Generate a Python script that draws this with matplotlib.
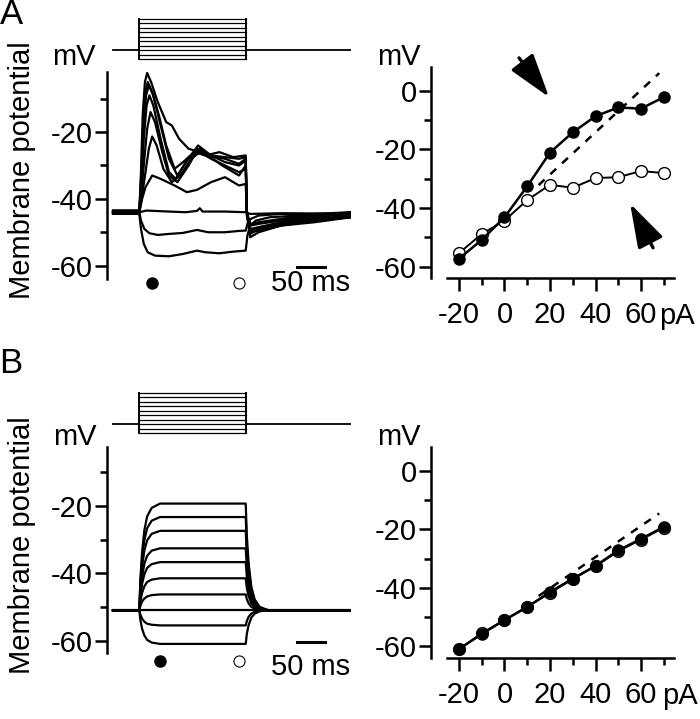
import matplotlib
matplotlib.use("Agg")
import matplotlib.pyplot as plt
from matplotlib.ticker import FixedLocator

plt.rcParams['font.family'] = ['Liberation Sans', 'DejaVu Sans']
plt.rcParams['axes.unicode_minus'] = False
FS = 21

# ---------------- data ----------------
currents = [-20, -10, 0, 10, 20, 30, 40, 50, 60, 70]          # pA
step_on, step_off, t_end = 47, 238, 425                        # ms

# Panel A I-V (peak = filled, steady = open)
A_peak = [-57.3, -50.9, -43.2, -32.6, -21.1, -14.2, -8.7, -5.7, -6.1, -2.2]
A_steady = [-55.4, -48.9, -44.3, -37.3, -32.1, -33.1, -29.8, -29.5, -27.4, -28.1]
A_fit_I = [15, 68]
A_fit_V = [-32.2, 6.0]

# Panel B I-V
B_peak = [-60.9, -55.8, -51.0, -46.6, -41.4, -36.9, -32.5, -27.2, -23.3, -19.2]
B_steady = [-61.0, -55.5, -51.0, -46.4, -41.8, -37.0, -32.6, -27.5, -23.5, -19.5]
B_fit_I = [15, 68]
B_fit_V = [-42.8, -14.6]

# Panel A voltage traces (time ms, voltage mV) read from the recording
A_post_t = [239, 245, 260, 300, 360, 425]
A_traces = [
    ([0, 47, 50, 55, 62, 75, 100, 125, 150, 165, 190, 215, 237, 240, 245, 255, 280, 330, 425],
     [-44.5, -44.5, -49, -53.5, -56, -57, -57.2, -56.5, -55.5, -56, -56.3, -55.8, -55.5, -51, -48, -46.5, -45.5, -45, -44.5]),
    ([0, 47, 50, 56, 65, 80, 100, 125, 150, 170, 200, 225, 237, 240, 246, 260, 300, 425],
     [-44, -44, -46.5, -49, -50.3, -50.8, -50.5, -50.2, -49.3, -50, -50, -49.6, -49.5, -47.5, -46, -45, -44.5, -44.5]),
    ([0, 47, 60, 100, 130, 150, 155, 160, 200, 237, 245, 300, 425],
     [-44, -44, -43.5, -43.8, -44, -43.6, -42.8, -43.8, -43.8, -44, -44.5, -44.3, -44.5]),
    ([0, 47, 52, 58, 70, 85, 110, 132, 150, 175, 200, 225, 237] + A_post_t,
     [-44, -44, -40, -36.5, -33, -34, -36, -38, -37.3, -35, -33.5, -36, -35.5, -44, -49.5, -48.5, -47.5, -46.5, -45.5]),
    ([0, 47, 52, 58, 64, 70, 78, 90, 105, 120, 140, 155, 175, 200, 225, 237] + A_post_t,
     [-44, -44, -39, -32, -25, -21.3, -24, -31, -35, -33, -28, -26, -28, -30, -32, -31, -44, -50, -49.5, -48, -46.5, -45.5]),
    ([0, 47, 51, 56, 61, 67, 75, 88, 100, 115, 135, 152, 170, 195, 225, 237] + A_post_t,
     [-44.5, -44.5, -38, -28, -19, -14, -17, -26, -33, -35, -30, -25, -27, -30, -33, -30, -44, -51.5, -50, -48, -47, -45.5]),
    ([0, 47, 51, 55, 60, 65, 72, 85, 100, 112, 130, 152, 175, 200, 225, 237] + A_post_t,
     [-43.5, -43.5, -35, -22, -12, -9, -12, -22, -32, -34, -29, -24, -27, -29, -30, -28.5, -44, -49, -48.5, -47, -45.5, -44.5]),
    ([0, 47, 50, 54, 59, 64, 72, 85, 100, 115, 135, 155, 175, 200, 225, 237] + A_post_t,
     [-44, -44, -36, -20, -9, -6, -9, -18, -28, -33, -28, -25, -27, -28, -29.5, -28, -45, -50.5, -49, -47.5, -46, -45]),
    ([0, 47, 50, 54, 58, 62, 70, 82, 95, 110, 125, 145, 165, 190, 215, 237] + A_post_t,
     [-43.5, -43.5, -34, -18, -8, -5, -8, -15, -24, -31, -29, -26, -27, -26, -27.5, -27, -44, -48, -47.5, -46.5, -45, -44]),
    ([0, 47, 50, 53, 57, 61, 68, 80, 95, 105, 118, 135, 155, 175, 200, 225, 237] + A_post_t,
     [-44, -44, -32, -15, -5, -2.3, -5, -11, -17, -18, -22, -25, -26, -27, -27.5, -28, -27.5, -44, -47.5, -47, -46, -44.5, -44]),
]

# Panel B voltage traces: shared time points, voltages read per trace
B_t = [0, 47, 49, 52, 56, 61, 69, 84, 237, 239, 242, 247, 253, 262, 277, 425]
B_traces = [
    [-51, -51, -54, -56.5, -58.5, -59.8, -60.6, -61, -61, -58, -55.5, -53.2, -52, -51.3, -51, -51],
    [-51, -51, -52.4, -53.5, -54.4, -55, -55.3, -55.5, -55.5, -54.2, -53, -52, -51.5, -51.1, -51, -51],
    [-51, -51, -51, -51, -51, -51, -51, -51, -51, -51, -51, -51, -51, -51, -51, -51],
    [-51, -51, -49.6, -48.4, -47.5, -46.9, -46.5, -46.3, -46.3, -47.7, -48.9, -50, -50.5, -50.9, -51, -51],
    [-51, -51, -48.2, -45.8, -43.9, -42.6, -41.9, -41.5, -41.5, -44.4, -46.7, -48.9, -50, -50.7, -51, -51],
    [-51, -51, -46.7, -43.1, -40.3, -38.4, -37.3, -36.7, -36.7, -41, -44.6, -47.9, -49.6, -50.6, -51, -51],
    [-51, -51, -45.5, -40.9, -37.2, -34.8, -33.3, -32.6, -32.6, -38.1, -42.7, -47, -49.2, -50.4, -51, -51],
    [-51, -51, -43.9, -38, -33.3, -30.2, -28.3, -27.4, -27.4, -34.5, -40.4, -45.8, -48.6, -50.3, -51, -51],
    [-51, -51, -42.7, -35.8, -30.2, -26.6, -24.4, -23.3, -23.3, -31.6, -38.5, -44.9, -48.2, -50.2, -51, -51],
    [-51, -51, -41.5, -33.6, -27.2, -23.1, -20.6, -19.3, -19.3, -28.8, -36.7, -44, -47.8, -50, -51, -51],
]

# ---------------- layout helpers ----------------
W, H = 700, 719
fig = plt.figure(figsize=(W / 100, H / 100), dpi=100)


def add_ax(x0, x1, y0, y1):
    return fig.add_axes([x0 / W, 1 - y1 / H, (x1 - x0) / W, (y1 - y0) / H])


def ftext(x, y, s, size=FS, **kw):
    fig.text(x / W, 1 - y / H, s, fontsize=size, **kw)


def style_trace_ax(ax, ylim):
    ax.set_xlim(-10.7, t_end)
    ax.set_ylim(*ylim)
    for s in ['top', 'right', 'bottom']:
        ax.spines[s].set_visible(False)
    ax.spines['left'].set_linewidth(1.8)
    ax.set_xticks([])
    ax.yaxis.set_major_locator(FixedLocator([-60, -40, -20]))
    ax.yaxis.set_minor_locator(FixedLocator([-50, -30, -10]))
    ax.tick_params(axis='y', which='major', length=9, width=1.8, labelsize=FS, pad=1)
    ax.tick_params(axis='y', which='minor', length=5, width=1.8)
    ax.patch.set_alpha(0)


def draw_stim(ax):
    ax.set_xlim(-10.7, t_end)
    ax.set_ylim(-29, 79)
    ax.axis('off')
    ax.plot([0, step_on], [0, 0], color='k', lw=1.3)
    ax.plot([step_off, t_end], [0, 0], color='k', lw=1.3)
    for c in currents:
        ax.plot([step_on, step_off], [c, c], color='k', lw=0.9)
    ax.plot([step_on, step_on], [min(currents), max(currents)], color='k', lw=1.4)
    ax.plot([step_off, step_off], [min(currents), max(currents)], color='k', lw=1.4)


def style_iv_ax(ax):
    ax.set_xlim(-32.3, 74.5)
    ax.set_ylim(-63.8, 8.1)
    for s in ['top', 'right']:
        ax.spines[s].set_visible(False)
    ax.spines['left'].set_linewidth(1.8)
    ax.spines['bottom'].set_linewidth(1.8)
    ax.spines['bottom'].set_bounds(-25.3, 74.5)
    ax.xaxis.set_major_locator(FixedLocator([-20, 0, 20, 40, 60]))
    ax.xaxis.set_minor_locator(FixedLocator([-10, 10, 30, 50, 70]))
    ax.yaxis.set_major_locator(FixedLocator([-60, -40, -20, 0]))
    ax.yaxis.set_minor_locator(FixedLocator([-50, -30, -10]))
    ax.tick_params(axis='both', which='major', length=9, width=1.8, labelsize=FS)
    ax.tick_params(axis='both', which='minor', length=5, width=1.8)
    ax.tick_params(axis='y', which='major', pad=1)
    ax.tick_params(axis='x', which='major', pad=8)
    ax.patch.set_alpha(0)


def draw_iv(ax, peak, steady, fit_I, fit_V):
    ax.plot(fit_I, fit_V, color='k', lw=1.8, dashes=(3.2, 3.2))
    ax.plot(currents, steady, color='k', lw=1.4, marker='o', ms=8.5,
            mfc='white', mec='k', mew=1.0, clip_on=False, zorder=3)
    ax.plot(currents, peak, color='k', lw=1.8, marker='o', ms=8,
            mfc='k', mec='k', clip_on=False, zorder=4)


# ---------------- Panel A ----------------
axA_stim = add_ax(107, 351, 15, 63)
draw_stim(axA_stim)

axA = add_ax(107, 351, 72, 279)
style_trace_ax(axA, (-64, -2))
for t, v in A_traces:
    axA.plot(t, v, color='k', lw=1.6)
axA.plot(70, -65.3, 'o', ms=8, mfc='k', mec='k', clip_on=False)
axA.plot(225, -65.3, 'o', ms=8, mfc='white', mec='k', mew=0.8, clip_on=False)
axA.plot([329, 379], [-60.3, -60.3], color='k', lw=2.2, clip_on=False)
axA.text(353, -65.3, '50 ms', fontsize=FS, ha='center', va='center', clip_on=False)

axAiv = add_ax(431, 674, 67, 277.7)
style_iv_ax(axAiv)
draw_iv(axAiv, A_peak, A_steady, A_fit_I, A_fit_V)
arrow_kw = dict(arrowstyle='-|>,head_length=1.6,head_width=0.5', color='k',
                lw=2.4, mutation_scale=17, shrinkA=0, shrinkB=0)
axAiv.annotate('', xy=(19.6, -2.2), xytext=(6.4, 11.2), arrowprops=arrow_kw,
               annotation_clip=False)
axAiv.annotate('', xy=(55.2, -38.5), xytext=(65.3, -53.6), arrowprops=arrow_kw,
               annotation_clip=False)

ftext(11, 15, 'A', size=25, ha='center', va='center')
ftext(74, 57, 'mV', ha='center', va='center')
ftext(399, 57, 'mV', ha='center', va='center')
ftext(22, 170, 'Membrane potential', ha='center', va='center', rotation=90)
ftext(677, 324, 'pA', ha='center', va='baseline')

# ---------------- Panel B ----------------
axB_stim = add_ax(107, 351, 389, 437)
draw_stim(axB_stim)

axB = add_ax(107, 351, 446.7, 653)
style_trace_ax(axB, (-63.7, -2.4))
for v in B_traces:
    axB.plot(B_t, v, color='k', lw=1.6)
axB.plot(84, -66.0, 'o', ms=8, mfc='k', mec='k', clip_on=False)
axB.plot(225, -66.0, 'o', ms=8, mfc='white', mec='k', mew=0.8, clip_on=False)
axB.plot([329, 379], [-60.4, -60.4], color='k', lw=2.2, clip_on=False)
axB.text(353, -67.8, '50 ms', fontsize=FS, ha='center', va='center', clip_on=False)

axBiv = add_ax(431, 674, 447, 657.5)
style_iv_ax(axBiv)
draw_iv(axBiv, B_peak, B_steady, B_fit_I, B_fit_V)

ftext(11, 364, 'B', size=25, ha='center', va='center')
ftext(75, 437, 'mV', ha='center', va='center')
ftext(399, 437, 'mV', ha='center', va='center')
ftext(22, 545, 'Membrane potential', ha='center', va='center', rotation=90)
ftext(680, 704, 'pA', ha='center', va='baseline')

fig.savefig('out.png', dpi=100)
